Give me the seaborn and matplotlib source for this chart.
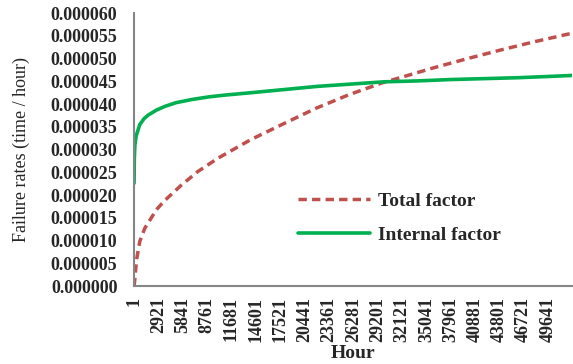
import numpy as np
import pandas as pd
import matplotlib
matplotlib.use("Agg")
import matplotlib.pyplot as plt
import seaborn as sns

# values (failure rate in units of 1e-6 per hour)
total_hours = [1, 80, 290, 680, 1280, 2680, 3670, 5670, 7660, 10050, 14000,
               17830, 21830, 25810, 29800, 33000, 35770, 39770, 43760, 47750, 52560]
total_rate = [0.0, 1.3, 5.7, 9.8, 12.7, 16.8, 18.8, 22.2, 25.2, 28.1, 32.2,
              35.6, 39.1, 42.1, 44.7, 46.4, 47.9, 49.9, 51.8, 53.6, 55.6]

internal_hours = [1, 30, 100, 250, 680, 1200, 1700, 2700, 3700, 5000, 6900, 9000,
                  11000, 14000, 18000, 22000, 26000, 30000, 34000, 38000, 42000,
                  46000, 50000, 52560]
internal_rate = [22.6, 28.0, 31.0, 33.0, 35.5, 36.8, 37.6, 38.7, 39.5, 40.3, 41.0, 41.6,
                 42.0, 42.5, 43.2, 43.9, 44.4, 44.9, 45.1, 45.4, 45.6,
                 45.8, 46.1, 46.3]

x_ticks = list(range(1, 52560, 2920))
y_ticks = [i * 5e-6 for i in range(13)]

total_df = pd.DataFrame({"hour": total_hours, "rate": np.array(total_rate) * 1e-6})
internal_df = pd.DataFrame({"hour": internal_hours, "rate": np.array(internal_rate) * 1e-6})

sns.set_style("white")
plt.rcParams["font.family"] = ["Liberation Serif", "DejaVu Serif"]

fig = plt.figure(figsize=(5.73, 3.64), dpi=100)
ax = fig.add_axes([0.234, 0.214, 0.765, 0.75])

sns.lineplot(data=total_df, x="hour", y="rate", ax=ax, color="#C0504D",
             linewidth=2.5, label="Total factor")
ax.lines[-1].set_dashes([2.4, 1.5])
sns.lineplot(data=internal_df, x="hour", y="rate", ax=ax, color="#00B050",
             linewidth=2.6, label="Internal factor")

ax.set_xlim(1, 52560)
ax.set_ylim(0, 0.00006)
ax.set_xticks(x_ticks)
ax.set_xticklabels([str(t) for t in x_ticks], rotation=90, fontsize=13, fontweight="bold")
ax.set_yticks(y_ticks)
ax.set_yticklabels([f"{v:.6f}" for v in y_ticks], fontsize=13, fontweight="bold")
ax.tick_params(direction="in", length=4, width=1.2, color="#868686")
ax.tick_params(axis="y", pad=12)
ax.tick_params(axis="x", pad=8)

for side in ["top", "right"]:
    ax.spines[side].set_visible(False)
for side in ["left", "bottom"]:
    ax.spines[side].set_color("#868686")
    ax.spines[side].set_linewidth(1.5)

ax.set_xlabel("Hour", fontsize=14, fontweight="bold")
ax.xaxis.set_label_coords(0.5, -0.215)
ax.set_ylabel("Failure rates (time / hour)", fontsize=13)
ax.yaxis.set_label_coords(-0.237, 0.5)

leg = ax.legend(loc="upper left", bbox_to_anchor=(0.52, 0.472), bbox_transform=fig.transFigure,
                frameon=False, handlelength=3.7, handletextpad=0.4, labelspacing=0.85,
                borderpad=0, borderaxespad=0, prop={"weight": "bold", "size": 14})

fig.savefig("out.png", dpi=100)
